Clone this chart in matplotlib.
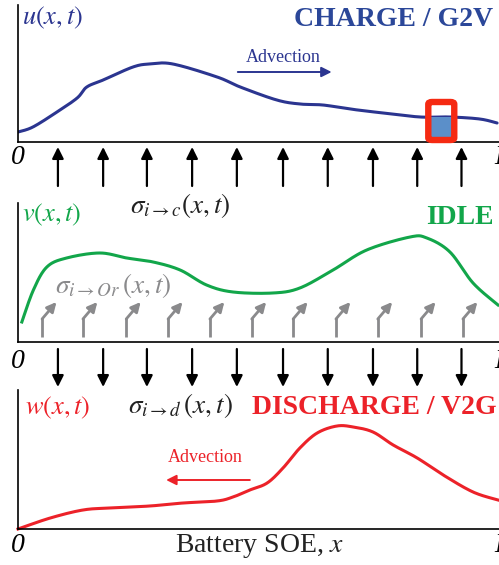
import numpy as np
import matplotlib
matplotlib.use("Agg")
import matplotlib.pyplot as plt
from matplotlib.patches import FancyBboxPatch, Rectangle

plt.rcParams['font.family'] = ['Liberation Serif', 'DejaVu Serif']
plt.rcParams['mathtext.fontset'] = 'stix'

# --- datos (x = SOE normalizado, y = altura relativa) ---
u_x = [0, 0.031, 0.081, 0.123, 0.143, 0.177, 0.239, 0.274, 0.322, 0.414,
       0.462, 0.538, 0.586, 0.634, 0.69, 0.759, 0.836, 0.898, 0.96, 0.996]
u_y = [10, 15, 30, 44, 55, 62, 75, 78, 78, 65, 55, 42, 38, 37, 33, 29, 25, 25, 23, 19]

v_x = [0.008, 0.032, 0.06, 0.101, 0.17, 0.226, 0.281, 0.337, 0.392, 0.447,
       0.53, 0.586, 0.655, 0.725, 0.815, 0.85, 0.898, 0.946, 0.998]
v_y = [20, 52, 75, 84, 89, 84, 80, 72, 57, 50, 49, 54, 72, 92, 105, 104, 90, 59, 37]

w_x = [0, 0.067, 0.135, 0.191, 0.274, 0.343, 0.414, 0.447, 0.482, 0.518, 0.551,
       0.586, 0.622, 0.663, 0.697, 0.738, 0.780, 0.830, 0.884, 0.946, 0.998]
w_y = [0, 11, 19, 21, 23, 26, 28, 32, 39, 46, 61, 81, 96, 103, 102, 97, 84, 71, 54, 37, 29]

# posiciones de las flechas de transicion
flechas_c = [0.083, 0.177, 0.268, 0.362, 0.455, 0.551, 0.644, 0.738, 0.830, 0.922]
flechas_or = [0.050, 0.135, 0.225, 0.312, 0.399, 0.486, 0.572, 0.661, 0.748, 0.838, 0.925]
bin_x = (0.857, 0.903)

AZUL = '#2b3590'
AZUL_T = '#2b4799'
VERDE = '#12a64a'
ROJO = '#ec2229'
GRIS = '#8a8a8c'


def suavizar(xs, ys, n=20):
    # Catmull-Rom para dibujar la curva suave
    pts = np.column_stack([xs, ys]).astype(float)
    p = np.vstack([pts[0], pts, pts[-1]])
    out = []
    t = np.linspace(0, 1, n, endpoint=False)[:, None]
    for i in range(1, len(p) - 2):
        p0, p1, p2, p3 = p[i - 1], p[i], p[i + 1], p[i + 2]
        seg = 0.5 * ((2 * p1) + (-p0 + p2) * t + (2 * p0 - 5 * p1 + 4 * p2 - p3) * t ** 2
                     + (-p0 + 3 * p1 - 3 * p2 + p3) * t ** 3)
        out.append(seg)
    out.append(pts[-1:])
    c = np.vstack(out)
    return c[:, 0], c[:, 1]


W, H = 499, 565
fig = plt.figure(figsize=(W / 100, H / 100), dpi=100)
L0, R0 = 18, 499


def panel(top, bottom):
    ax = fig.add_axes([L0 / W, 1 - bottom / H, (R0 - L0) / W, (bottom - top) / H])
    ax.set_xlim(0, 1)
    ax.set_ylim(0, bottom - top)
    for s in ['top', 'right']:
        ax.spines[s].set_visible(False)
    for s in ['left', 'bottom']:
        ax.spines[s].set_linewidth(1.2)
    ax.set_xticks([])
    ax.set_yticks([])
    ax.patch.set_alpha(0)
    return ax


ax1 = panel(5, 142)
ax2 = panel(203, 342)
ax3 = panel(390, 529)

xs, ys = suavizar(u_x, u_y)
ax1.plot(xs, ys, color=AZUL, lw=2.2, solid_capstyle='round')
xs, ys = suavizar(v_x, v_y)
ax2.plot(xs, ys, color=VERDE, lw=2.2, clip_on=False)
xs, ys = suavizar(w_x, w_y)
ax3.plot(xs, ys, color=ROJO, lw=2.2, clip_on=False)

# bin resaltado en la distribucion de carga
bx, by = suavizar(u_x, u_y)
h_bin = np.interp(np.mean(bin_x), bx, by)
ax1.add_patch(Rectangle((bin_x[0], 0), bin_x[1] - bin_x[0], h_bin,
                        facecolor='#5b8fc9', edgecolor='none', zorder=3))
ax1.add_patch(FancyBboxPatch((bin_x[0] - 0.004, 2), bin_x[1] - bin_x[0] + 0.008, 38,
                             boxstyle='round,pad=0,rounding_size=0.008',
                             mutation_aspect=1 / 0.0035,
                             facecolor='none', edgecolor='#f52a12', lw=4.6,
                             zorder=4, clip_on=False))

# capa superior: x en SOE, y en pixeles
ov = fig.add_axes([L0 / W, 0, (R0 - L0) / W, 1])
ov.set_xlim(0, 1)
ov.set_ylim(H, 0)
ov.axis('off')

for x in flechas_c:
    ov.annotate('', xy=(x, 147), xytext=(x, 186),
                arrowprops=dict(arrowstyle='-|>', color='k', lw=1.6,
                                mutation_scale=17, shrinkA=0, shrinkB=0))
    ov.annotate('', xy=(x, 387), xytext=(x, 349),
                arrowprops=dict(arrowstyle='-|>', color='k', lw=1.6,
                                mutation_scale=17, shrinkA=0, shrinkB=0))

for x in flechas_or:
    ov.plot([x, x], [337, 318], color=GRIS, lw=2.0, solid_capstyle='butt')
    ov.annotate('', xy=(x + 0.030, 302), xytext=(x, 319),
                arrowprops=dict(arrowstyle='-|>', color=GRIS, lw=2.0,
                                mutation_scale=14, shrinkA=0, shrinkB=0))

# flechas de adveccion
ov.annotate('', xy=(0.652, 72), xytext=(0.457, 72),
            arrowprops=dict(arrowstyle='-|>', color=AZUL, lw=1.4,
                            mutation_scale=15, shrinkA=0, shrinkB=0))
ov.text(0.551, 57, 'Advection', color=AZUL, fontsize=13, ha='center', va='center')
ov.annotate('', xy=(0.308, 480), xytext=(0.482, 480),
            arrowprops=dict(arrowstyle='-|>', color=ROJO, lw=1.4,
                            mutation_scale=15, shrinkA=0, shrinkB=0))
ov.text(0.389, 457, 'Advection', color=ROJO, fontsize=13, ha='center', va='center')

# etiquetas
ov.text(0.008, 18, r'$u(x,t)$', color=AZUL, fontsize=19, ha='left', va='center')
ov.text(0.988, 19, 'CHARGE / G2V', color=AZUL_T, fontsize=20, fontweight='bold',
        ha='right', va='center')
ov.text(0.233, 205, r'$\sigma_{i\rightarrow c}(x,t)$', color='#222222', fontsize=19.5,
        ha='left', va='center')
ov.text(0.008, 215, r'$v(x,t)$', color=VERDE, fontsize=19, ha='left', va='center')
ov.text(0.988, 218, 'IDLE', color=VERDE, fontsize=20, fontweight='bold',
        ha='right', va='center')
ov.text(0.077, 285, r'$\sigma_{i\rightarrow Or}\,(x,t)$', color=GRIS, fontsize=19.5,
        ha='left', va='center')
ov.text(0.015, 408, r'$w(x,t)$', color=ROJO, fontsize=19, ha='left', va='center')
ov.text(0.996, 408, 'DISCHARGE / V2G', color=ROJO, fontsize=20, fontweight='bold',
        ha='right', va='center')
ov.text(0.229, 405, r'$\sigma_{i\rightarrow d}\,(x,t)$', color='#222222', fontsize=19.5,
        ha='left', va='center')
ov.text(0.503, 546, r'Battery SOE, $x$', color='#222222', fontsize=20,
        ha='center', va='center')

for y in [157, 362, 546]:
    ov.text(0, y, '0', fontsize=20, fontstyle='italic', ha='center', va='center')
    ov.text(0.99, y, 'L', fontsize=20, fontstyle='italic', ha='left', va='center')

fig.savefig('out.png', dpi=100)
